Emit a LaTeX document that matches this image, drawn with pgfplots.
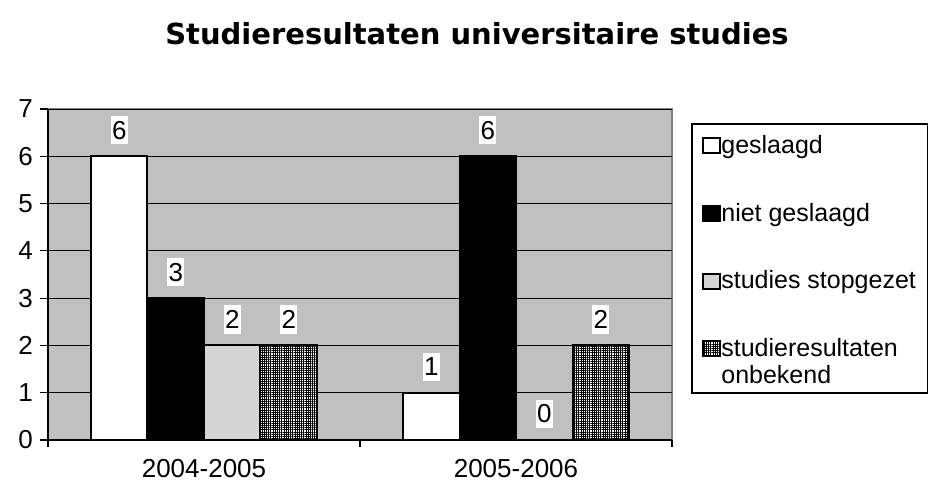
\documentclass[border=0pt]{standalone}
\usepackage{fontspec}
\setmainfont{Liberation Sans}
\newfontfamily\titlefont{DejaVu Sans}
\usepackage{pgfplots}
\pgfplotsset{compat=1.18}
\usetikzlibrary{patterns.meta}
\definecolor{plotbg}{HTML}{C0C0C0}
\definecolor{framegray}{HTML}{808080}

\begin{document}
\begin{tikzpicture}
\useasboundingbox (-24pt,-23.5pt) rectangle (440pt,220pt);
\begin{axis}[
  scale only axis, width=312pt, height=165.5pt,
  xmin=-0.5, xmax=1.5, ymin=0, ymax=7,
  ybar=0pt, bar width=28.25pt,
  axis x line*=bottom, axis y line*=left,
  axis line style={black, line width=0.6pt},
  axis background/.style={fill=plotbg, draw=framegray, line width=0.8pt},
  ymajorgrids, grid style={black, line width=0.4pt},
  ytick={0,...,7},
  tick align=outside, major tick length=4pt, minor tick length=3.5pt,
  tick style={black, line width=0.6pt},
  xtick={0,1}, xticklabels={2004-2005,2005-2006},
  major x tick style={draw=none},
  minor xtick={-0.5,0.5,1.5},
  tick label style={font=\fontsize{13}{15}\selectfont},
  xticklabel style={yshift=-2pt},
  /pgf/number format/assume math mode=true,
  title={Studieresultaten universitaire studies},
  title style={at={(0.6875,1.19)}, anchor=center, yshift=0pt,
    font=\titlefont\bfseries\fontsize{14.5}{16}\selectfont},
  nodes near coords,
  every node near coord/.append style={anchor=center, yshift=13pt, fill=white, text=black,
    inner xsep=0.6pt, inner ysep=2.5pt, font=\fontsize{13}{15}\selectfont},
  legend style={at={(1.032,0.955)}, anchor=north west, draw=none, fill=none,
    inner xsep=5pt, inner ysep=5.5pt, row sep={33.8pt,between origins},
    nodes={anchor=base west, inner sep=0pt, text=black, font=\fontsize{12.5}{13.5}\selectfont},
    /tikz/every even column/.append style={column sep=1.5pt}},
  legend image code/.code={\draw[#1] (0pt,0pt) rectangle (8.5pt,7.5pt);},
]
\addplot[draw=black, line width=1pt, fill=white] coordinates {(0,6) (1,1)};
\addplot[draw=black, line width=1pt, fill=black] coordinates {(0,3) (1,6)};
\addplot[draw=black, line width=1pt, fill=white,
  postaction={pattern={Dots[distance=1pt, radius=0.32pt]}, pattern color=black!70}]
  coordinates {(0,2) (1,0)};
\addplot[draw=black, line width=1pt, fill=white,
  postaction={pattern={Hatch[angle=0, distance=1.1pt, line width=0.3pt]}}]
  coordinates {(0,2) (1,2)};
\legend{geslaagd, niet geslaagd, studies stopgezet,
  {\vtop{\hbox{studieresultaten}\hbox{onbekend}}}}
\end{axis}
% legend frame
\draw[black, line width=0.6pt] (322pt,23.5pt) rectangle (439.6pt,158pt);
\end{tikzpicture}
\end{document}
